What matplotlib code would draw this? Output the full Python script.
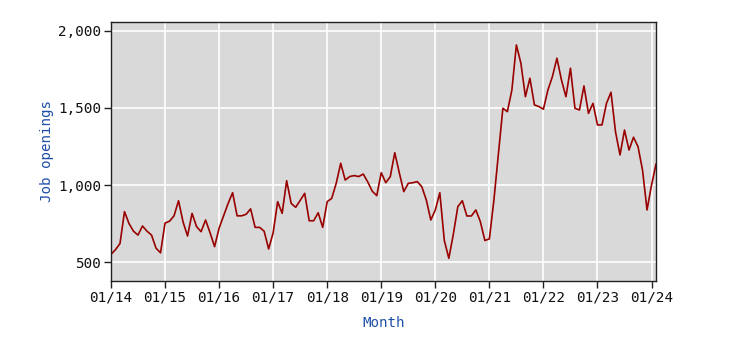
import matplotlib
matplotlib.use("Agg")
import matplotlib.pyplot as plt
import numpy as np

# Monthly job openings, Jan 2014 .. Feb 2024 (month index 0 = Jan 2014)
values = [
    # 2014
    550, 580, 620, 827, 750, 700, 675, 734, 700, 675, 590, 560,
    # 2015
    753, 765, 800, 898, 760, 669, 816, 730, 697, 773, 690, 600,
    # 2016
    720, 800, 880, 950, 800, 800, 810, 845, 725, 725, 700, 585,
    # 2017
    690, 892, 816, 1028, 881, 855, 900, 946, 768, 768, 820, 725,
    # 2018
    892, 913, 1011, 1141, 1032, 1055, 1061, 1055, 1071, 1020, 960, 931,
    # 2019
    1080, 1015, 1054, 1210, 1080, 957, 1011, 1015, 1022, 989, 903, 773,
    # 2020
    838, 950, 640, 524, 680, 860, 898, 799, 799, 838, 762, 640,
    # 2021
    650, 900, 1200, 1498, 1476, 1617, 1909, 1790, 1573, 1693, 1520, 1509,
    # 2022
    1492, 1617, 1704, 1823, 1682, 1573, 1758, 1498, 1487, 1643, 1465, 1530,
    # 2023
    1390, 1390, 1530, 1602, 1346, 1195, 1357, 1227, 1310, 1249, 1097, 838,
    # 2024
    1000, 1136,
]
tick_labels = ["01/14", "01/15", "01/16", "01/17", "01/18", "01/19",
               "01/20", "01/21", "01/22", "01/23", "01/24"]
y_ticks = [500, 1000, 1500, 2000]

months = np.arange(len(values))

fig = plt.figure(figsize=(7.33, 3.57), dpi=100)
ax = fig.add_axes([0.1514, 0.2129, 0.895 - 0.1514, 0.9384 - 0.2129])
ax.set_facecolor("#d9d9d9")
ax.plot(months, values, color="#990000", linewidth=1.2)

ax.set_xlim(0, len(values) - 1)
ax.set_ylim(377, 2058)
ax.set_xticks(np.arange(0, 121, 12))
ax.set_xticklabels(tick_labels)
ax.set_yticks(y_ticks)
ax.set_yticklabels([f"{v:,}" for v in y_ticks])

ax.grid(True, color="white", linewidth=1.2)
ax.set_axisbelow(True)
for s in ax.spines.values():
    s.set_color("#222222")
    s.set_linewidth(1.0)

mono = "DejaVu Sans Mono"
ax.tick_params(axis="both", direction="out", length=5, width=1, colors="#222222",
               labelsize=10.3, pad=2)
for lab in ax.get_xticklabels() + ax.get_yticklabels():
    lab.set_fontfamily(mono)
    lab.set_color("#111111")

ax.set_xlabel("Month", family=mono, fontsize=10.2, color="#1f4fa8", labelpad=8)
ax.set_ylabel("Job openings", family=mono, fontsize=10.2, color="#1f4fa8", labelpad=3)

fig.savefig("out.png", dpi=100)
